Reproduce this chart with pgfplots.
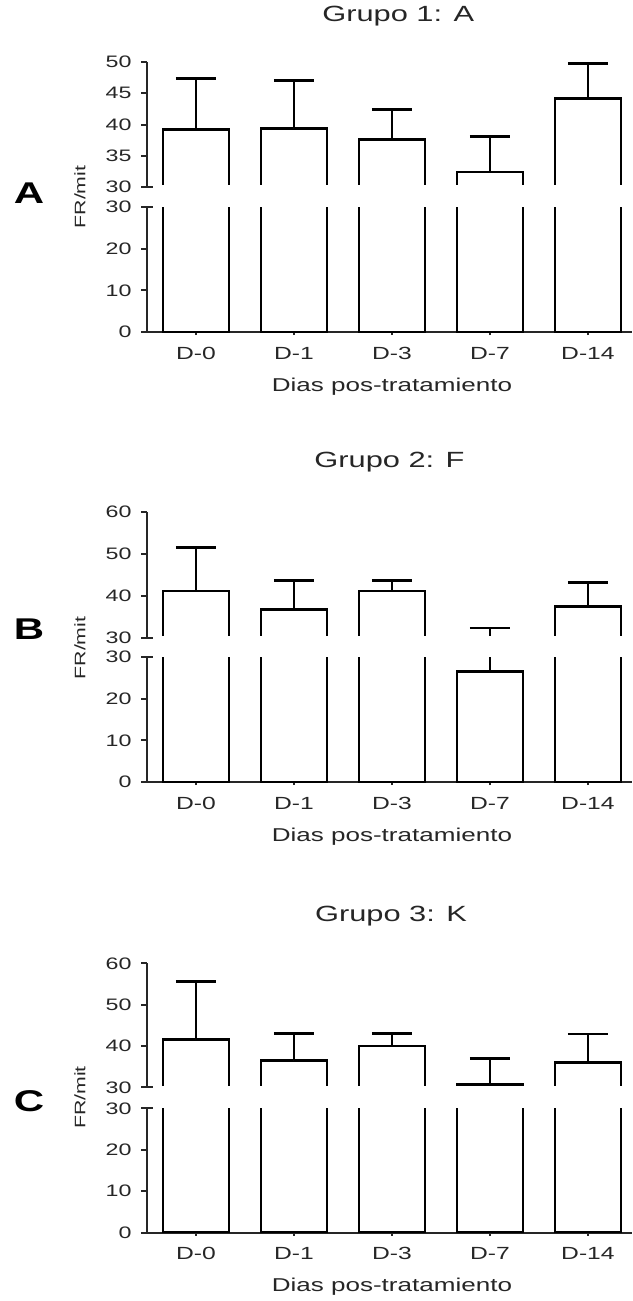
\documentclass[border=0pt]{standalone}
\usepackage{fontspec}
\setmainfont{Liberation Sans}[FakeStretch=1.4]
\usepackage{pgfplots}
\pgfplotsset{compat=1.18}

% one series per panel: x position, mean, upper error
\pgfplotstableread{
x  y     e
0  39.2  8.2
1  39.4  7.7
2  37.6  4.8
3  32.4  5.7
4  44.1  5.6
}\grupoA
\pgfplotstableread{
x  y     e
0  41.2  10.3
1  36.7  6.9
2  41.2  2.4
3  26.6  5.8
4  37.5  5.7
}\grupoB
\pgfplotstableread{
x  y     e
0  41.6  14.0
1  36.5  6.6
2  40.0  3.1
3  30.7  6.3
4  36.0  6.9
}\grupoC

\pgfplotsset{
  brk/.style={
    scale only axis, width=242.5pt,
    xmin=-0.5, xmax=4.45,
    ybar, bar width=33pt, bar shift=0pt,
    axis y line=left,
    axis line style={-, line width=1pt, black!85},
    tick style={line width=1pt, black!85},
    tick align=outside, major tick length=3pt,
    yticklabel style={font=\fontsize{8.3}{9}\selectfont, text=black!85, xshift=-1.2pt},
    /pgf/number format/assume math mode=true,
    extra y ticks={30}, extra y tick labels={},
    extra y tick style={tick align=inside},
  },
  upper/.style={brk, axis x line=none, ymin=30,
    title style={font=\fontsize{11}{13}\selectfont, text=black!85, anchor=base}},
  lower/.style={brk, axis x line=bottom,
    axis line style={-, line width=1pt, black!85},
    ymin=0, ymax=30, height=62.5pt,
    ytick={0,10,20,30},
    xtick={0,...,4}, xticklabels={D-0,D-1,D-3,D-7,D-14},
    xticklabel style={font=\fontsize{8.8}{10}\selectfont, text=black!85, anchor=base, yshift=-12pt},
    xlabel={Dias pos-tratamiento},
    xlabel style={font=\fontsize{9.3}{11}\selectfont, text=black!85,
      at={(axis description cs:0.505,0)}, anchor=base, yshift=-29.5pt}},
  barplot/.style={draw=black, fill=white, line width=1.4pt,
    error bars/.cd, y dir=plus, y explicit,
    error bar style={line width=1.4pt},
    error mark options={rotate=90, mark size=10pt, line width=1.4pt}},
  % hides the bar bottoms that pgfplots puts at ymin of the upper segment
  breakline/.style={sharp plot, draw=white, line width=1.7pt, forget plot, mark=none},
}

\begin{document}
\begin{tikzpicture}
\path[use as bounding box] (0,0) rectangle (316pt,-650.5pt);

% ---- Grupo 1
\begin{axis}[upper, at={(73.5pt,-93.5pt)}, anchor=south west,
  height=62.5pt, ymax=50, ytick={30,35,40,45,50},
  title={Grupo 1: A}, title style={at={(axis description cs:0.518,1)}, yshift=14.5pt}]
\addplot[barplot] table[x=x, y=y, y error=e] {\grupoA};
\addplot[breakline] coordinates {(-0.42,30) (4.45,30)};
\end{axis}
\begin{axis}[lower, at={(73.5pt,-166pt)}, anchor=south west]
\addplot[barplot] table[x=x, y=y, y error=e] {\grupoA};
\end{axis}

% ---- Grupo 2
\begin{axis}[upper, at={(73.5pt,-319pt)}, anchor=south west,
  height=63pt, ymax=60, ytick={30,40,50,60},
  title={Grupo 2: F}, title style={at={(axis description cs:0.5,1)}, yshift=16.5pt}]
\addplot[barplot] table[x=x, y=y, y error=e] {\grupoB};
\addplot[breakline] coordinates {(-0.42,30) (4.45,30)};
\end{axis}
\begin{axis}[lower, at={(73.5pt,-391pt)}, anchor=south west]
\addplot[barplot] table[x=x, y=y, y error=e] {\grupoB};
\end{axis}

% ---- Grupo 3
\begin{axis}[upper, at={(73.5pt,-543.65pt)}, anchor=south west,
  height=62pt, ymax=60, ytick={30,40,50,60},
  title={Grupo 3: K}, title style={at={(axis description cs:0.503,1)}, yshift=15pt}]
\addplot[barplot] table[x=x, y=y, y error=e] {\grupoC};
\addplot[breakline] coordinates {(-0.42,30) (4.45,30)};
\end{axis}
\begin{axis}[lower, at={(73.5pt,-616.35pt)}, anchor=south west, height=62.2pt]
\addplot[barplot] table[x=x, y=y, y error=e] {\grupoC};
\end{axis}

% panel letters and y labels
\foreach \L/\ly/\fy in {A/-96.5/-98.5, B/-314.5/-324, C/-550.5/-548.75} {
  \node[font=\fontsize{15}{17}\selectfont\bfseries] at (14.5pt,\ly pt) {\L};
  \node[rotate=90, font=\fontsize{7.6}{9}\selectfont, text=black!85] at (40pt,\fy pt) {FR/mit};
}
\end{tikzpicture}
\end{document}
